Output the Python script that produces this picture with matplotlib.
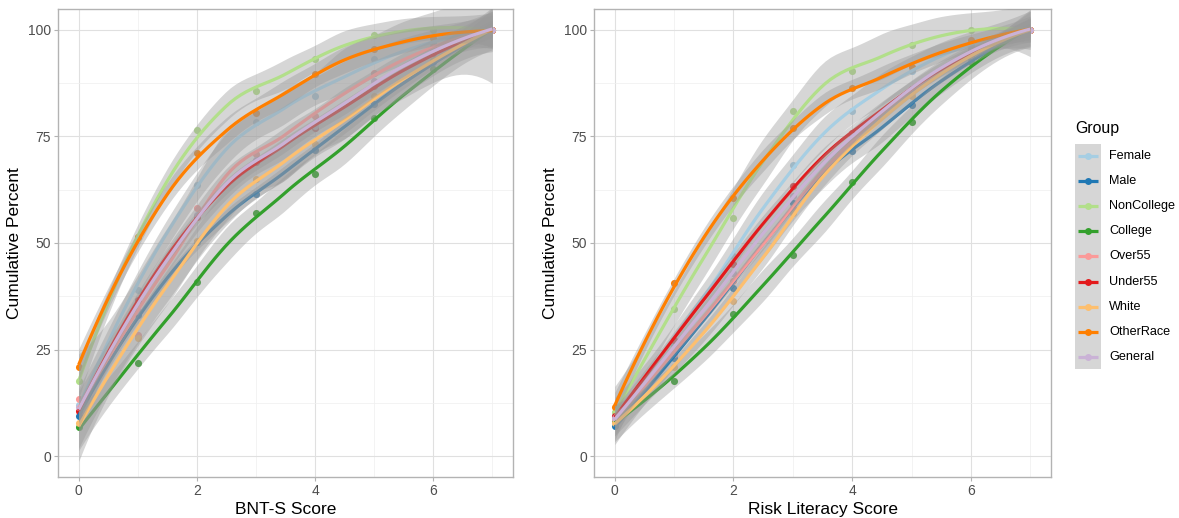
import math
import numpy as np
import matplotlib
matplotlib.use("Agg")
import matplotlib.pyplot as plt
from matplotlib.patches import Rectangle
from matplotlib.ticker import MultipleLocator

plt.rcParams['font.family'] = ['Liberation Sans', 'DejaVu Sans']

scores = np.arange(8)
groups = ["Female", "Male", "NonCollege", "College", "Over55",
          "Under55", "White", "OtherRace", "General"]
colors = ["#A6CEE3", "#1F78B4", "#B2DF8A", "#33A02C", "#FB9A99",
          "#E31A1C", "#FDBF6F", "#FF7F00", "#CAB2D6"]

# cumulative percent by score, BNT-S
bnt_female = [12.0, 39.0, 63.5, 78.3, 84.5, 93.2, 97.0, 100]
bnt_male = [9.3, 33.0, 50.2, 61.6, 71.8, 82.7, 92.5, 100]
bnt_noncollege = [17.6, 51.4, 76.5, 85.6, 93.2, 98.7, 100, 100]
bnt_college = [6.9, 21.9, 40.8, 57.0, 66.3, 79.4, 90.8, 100]
bnt_over55 = [13.3, 28.4, 58.3, 70.8, 79.8, 90.0, 96.0, 100]
bnt_under55 = [10.6, 36.6, 56.0, 69.0, 76.9, 86.9, 94.5, 100]
bnt_white = [7.8, 27.7, 50.4, 65.0, 73.2, 84.5, 93.0, 100]
bnt_otherrace = [21.0, 51.4, 71.0, 80.4, 89.6, 95.5, 98.0, 100]
bnt_general = [11.5, 34.0, 56.5, 69.5, 77.5, 88.0, 95.5, 100]

# cumulative percent by score, risk literacy
rl_female = [10.0, 26.0, 47.0, 68.3, 81.0, 90.4, 96.5, 100]
rl_male = [7.0, 23.0, 39.5, 59.5, 71.6, 82.4, 93.5, 100]
rl_noncollege = [10.3, 34.4, 55.8, 81.0, 90.3, 96.5, 100, 100]
rl_college = [8.2, 17.7, 33.3, 47.1, 64.4, 78.3, 92.5, 100]
rl_over55 = [8.8, 24.0, 41.0, 58.3, 74.4, 85.5, 94.5, 100]
rl_under55 = [9.3, 27.3, 45.0, 63.4, 75.9, 86.1, 95.0, 100]
rl_white = [7.7, 21.0, 36.3, 57.0, 72.8, 84.5, 94.0, 100]
rl_otherrace = [11.6, 40.6, 60.5, 77.0, 86.3, 91.2, 97.6, 100]
rl_general = [9.0, 24.7, 43.0, 61.0, 75.0, 86.1, 95.5, 100]

bnt = [bnt_female, bnt_male, bnt_noncollege, bnt_college, bnt_over55,
       bnt_under55, bnt_white, bnt_otherrace, bnt_general]
rl = [rl_female, rl_male, rl_noncollege, rl_college, rl_over55,
      rl_under55, rl_white, rl_otherrace, rl_general]


def t_quantile(p, df):
    c = math.exp(math.lgamma((df + 1) / 2) - math.lgamma(df / 2)) / math.sqrt(df * math.pi)
    grid = np.linspace(0, 30, 30001)
    pdf = c * (1 + grid ** 2 / df) ** (-(df + 1) / 2)
    cdf = 0.5 + np.concatenate([[0], np.cumsum((pdf[1:] + pdf[:-1]) / 2 * np.diff(grid))])
    return np.interp(p, cdf, grid)


def split_points(xv):
    # cut points of a 1-d kd tree, one point per leaf
    if len(xv) <= 1:
        return []
    m = len(xv) // 2
    cut = (xv[m - 1] + xv[m]) / 2
    return split_points(xv[:m]) + [cut] + split_points(xv[m:])


def loess(x, y, xs, span=0.75):
    # local quadratic fit (tricube weights) at tree vertices,
    # cubic Hermite interpolation in between, plus 95% band
    x = np.asarray(x, float)
    y = np.asarray(y, float)
    n = len(x)
    q = int(np.floor(n * span))

    def rows(x0):
        d = np.abs(x - x0)
        h = np.sort(d)[q - 1]
        w = np.clip(1 - (d / h) ** 3, 0, None) ** 3
        X = np.column_stack([np.ones(n), x - x0, (x - x0) ** 2])
        XtW = X.T * w
        B = np.linalg.solve(XtW @ X, XtW)
        return B[0], B[1]

    margin = 0.005 * (x.max() - x.min())
    verts = np.array([x.min() - margin] + split_points(np.sort(x)) + [x.max() + margin])
    V, S = zip(*[rows(v) for v in verts])
    V, S = np.array(V), np.array(S)

    def interp(xq):
        i = min(np.searchsorted(verts, xq, side="right") - 1, len(verts) - 2)
        hw = verts[i + 1] - verts[i]
        t = (xq - verts[i]) / hw
        h00 = 2 * t ** 3 - 3 * t ** 2 + 1
        h10 = t ** 3 - 2 * t ** 2 + t
        h01 = -2 * t ** 3 + 3 * t ** 2
        h11 = t ** 3 - t ** 2
        return h00 * V[i] + h10 * hw * S[i] + h01 * V[i + 1] + h11 * hw * S[i + 1]

    L = np.array([interp(v) for v in x])
    Ls = np.array([interp(v) for v in xs])
    fit = Ls @ y
    R = np.eye(n) - L
    M = R.T @ R
    d1 = np.trace(M)
    d2 = np.trace(M @ M)
    sigma = math.sqrt(np.sum((R @ y) ** 2) / d1)
    se = sigma * np.sqrt((Ls ** 2).sum(axis=1))
    t = t_quantile(0.975, d1 ** 2 / d2)
    return fit, fit - t * se, fit + t * se


fig = plt.figure(figsize=(11.79, 5.18), dpi=100)
ax1 = fig.add_axes([58 / 1179, 41 / 518, 455 / 1179, 468 / 518])
ax2 = fig.add_axes([594 / 1179, 41 / 518, 457 / 1179, 468 / 518])

xs = np.linspace(0, 7, 80)
for ax, data, xlabel in [(ax1, bnt, "BNT-S Score"), (ax2, rl, "Risk Literacy Score")]:
    for vals, col in zip(data, colors):
        ax.scatter(scores, vals, s=26, color=col, linewidths=0, zorder=2)
    for vals, col in zip(data, colors):
        fit, lo, hi = loess(scores, vals, xs)
        ax.fill_between(xs, lo, hi, color="#999999", alpha=0.4, linewidth=0, zorder=3)
        ax.plot(xs, fit, color=col, lw=2.3, solid_capstyle="butt", zorder=3)

    ax.set_xlim(-0.35, 7.35)
    ax.set_ylim(-4.9, 104.9)
    ax.xaxis.set_major_locator(MultipleLocator(2))
    ax.xaxis.set_minor_locator(MultipleLocator(1))
    ax.set_yticks([0, 25, 50, 75, 100])
    ax.set_yticks([12.5, 37.5, 62.5, 87.5], minor=True)
    ax.grid(which="major", color="#E0E0E0", lw=0.8, zorder=0)
    ax.grid(which="minor", color="#EFEFEF", lw=0.5, zorder=0)
    ax.set_axisbelow(True)
    for sp in ax.spines.values():
        sp.set_color("#B3B3B3")
        sp.set_linewidth(1.0)
    ax.tick_params(which="major", length=3, width=0.8, color="#B3B3B3",
                   labelcolor="#4D4D4D", labelsize=10, pad=2)
    ax.tick_params(which="minor", length=0)
    ax.set_xlabel(xlabel, fontsize=12.5, labelpad=3)
    ax.set_ylabel("Cumulative Percent", fontsize=12.5, labelpad=4)

# legend drawn in pixel space
lax = fig.add_axes([0, 0, 1, 1])
lax.set_xlim(0, 1179)
lax.set_ylim(518, 0)
lax.axis("off")
lax.patch.set_alpha(0)
lax.text(1075, 128, "Group", fontsize=11.4, va="center", ha="left")
key_top, key_h = 143.5, 25.1
lax.add_patch(Rectangle((1075, key_top), 25.5, key_h * len(groups),
                        facecolor="#D6D6D6", edgecolor="none"))
for i, (g, col) in enumerate(zip(groups, colors)):
    yc = key_top + key_h * (i + 0.5)
    lax.plot([1078, 1098], [yc, yc], color=col, lw=2.3, solid_capstyle="butt")
    lax.plot([1088], [yc], "o", color=col, ms=5, mew=0)
    lax.text(1109, yc, g, fontsize=9.1, va="center", ha="left")

fig.savefig("out.png", dpi=100)
